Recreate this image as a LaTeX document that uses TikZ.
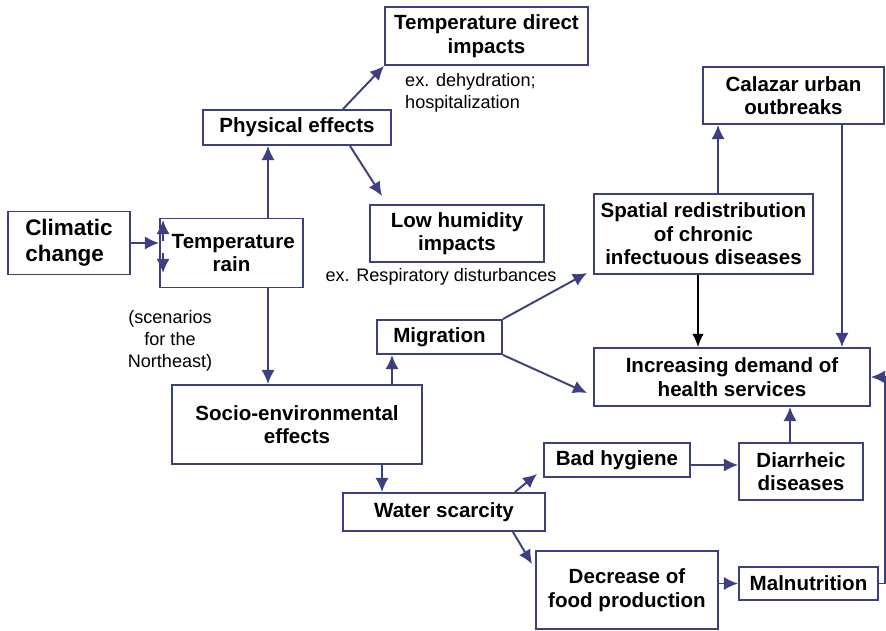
\documentclass[tikz,border=0pt]{standalone}
\usepackage{fontspec}
\setmainfont{Liberation Sans}
\usepackage{tikz}
\usetikzlibrary{arrows.meta,calc}
\definecolor{navy}{RGB}{60,64,128}
\tikzset{
  box/.style={draw=navy, line width=1.1pt, align=center, inner sep=0pt,
    font=\bfseries\fontsize{11.7}{13.4}\selectfont},
  note/.style={font=\fontsize{10.3}{12.6}\selectfont},
  arr/.style={draw=navy, line width=1.1pt, -{Latex[length=8pt,width=7.5pt]}},
  thinarr/.style={draw=black, line width=0.7pt, -{Latex[length=7.5pt,width=6.5pt]}}
}

\begin{document}
\begin{tikzpicture}[x=0.02cm,y=-0.02cm]
\useasboundingbox (0,0) rectangle (886,631);
%%Boxes
\node[box, minimum width=2.44cm, minimum height=1.26cm, align=left,
  font=\bfseries\fontsize{12.8}{15}\selectfont] (clim) at (69,243) {Climatic\\change};
\node[box, minimum width=2.86cm, minimum height=1.38cm] (temp) at (231.5,253) {\,Temperature\\rain};
\node[box, minimum width=3.76cm, minimum height=0.70cm] (phys) at (297,127.5) {Physical effects};
\node[box, minimum width=4.06cm, minimum height=1.16cm] (tdir) at (486.5,36) {Temperature direct\\impacts};
\node[box, minimum width=3.48cm, minimum height=1.14cm] (lowh) at (457,233.5) {Low humidity\\impacts};
\node[box, minimum width=5.00cm, minimum height=1.58cm] (socio) at (297,424.5) {Socio-environmental\\effects};
\node[box, minimum width=2.50cm, minimum height=0.68cm] (migr) at (439.5,337) {Migration};
\node[box, minimum width=4.04cm, minimum height=0.76cm] (water) at (444,512) {Water scarcity};
\node[box, minimum width=2.92cm, minimum height=0.68cm] (hyg) at (617,460) {Bad hygiene};
\node[box, minimum width=2.48cm, minimum height=1.14cm] (diar) at (801,471.5) {Diarrheic\\diseases};
\node[box, minimum width=5.52cm, minimum height=1.16cm] (incr) at (732,377) {Increasing demand of\\health services};
\node[box, minimum width=3.64cm, minimum height=1.56cm] (decr) at (627,590) {Decrease of\\food production};
\node[box, minimum width=2.78cm, minimum height=0.66cm] (maln) at (808.5,583.5) {Malnutrition};
\node[box, minimum width=4.38cm, minimum height=1.60cm] (spat) at (703.5,234) {Spatial redistribution\\of chronic\\infectuous diseases};
\node[box, minimum width=3.62cm, minimum height=1.14cm] (cala) at (793.5,95.5) {Calazar urban\\outbreaks};

%%Notes
\node[note, align=left, anchor=west] (dehy) at (399,93) {ex. dehydration;\\hospitalization};
\node[note] (resp) at (441,277) {ex. Respiratory disturbances};
\node[note, align=center] (scen) at (170,341) {(scenarios\\for the\\Northeast)};

%%Arrows
\draw[arr] (clim.east) -- (clim.east -| temp.west);
\draw[arr] ($(temp.west)+(4,-12)$) coordinate (up0) -- ($(temp.west)+(4,-33)$);
\draw[arr] ($(temp.west)+(4,0)$) coordinate (dn0) -- ($(temp.west)+(4,20)$);
\draw[arr] ($(temp.north)+(36.5,0)$) coordinate (t1) -- (t1 |- phys.south);
\draw[arr] ($(temp.south)+(36.5,0)$) coordinate (t2) -- (t2 |- socio.north);
\draw[arr] ($(phys.north)+(46,0)$) -- (tdir.south west);
\draw[arr] ($(phys.south)+(53,0)$) -- ($(lowh.north west)+(13,-8)$);
\draw[arr] ($(socio.north)+(95,0)$) coordinate (s1) -- (s1 |- migr.south);
\draw[arr] ($(socio.south)+(85,0)$) coordinate (s2) -- (s2 |- water.north);
\draw[arr] (migr.north east) -- ($(spat.south west)+(-6,-2)$);
\draw[arr] (migr.south east) -- ($(incr.west)+(-6,16)$);
\draw[arr] ($(water.north east)+(-31,0)$) -- ($(hyg.south west)+(-6,-4)$);
\draw[arr] ($(water.south east)+(-33,0)$) -- ($(decr.north west)+(-3,14)$);
\draw[arr] ($(hyg.east)+(0,5)$) coordinate (h1) -- (h1 -| diar.west);
\draw[arr] ($(diar.north)+(-11,0)$) coordinate (d1) -- (d1 |- incr.south);
\draw[arr] (maln.west -| decr.east) -- (maln.west);
\draw[arr] (maln.east) -- ++(6,0) |- (incr.east);
\draw[arr] ($(spat.north)+(14.5,0)$) coordinate (p1) -- (p1 |- cala.south);
\draw[arr] ($(cala.south)+(48.5,0)$) coordinate (c1) -- (c1 |- incr.north);
\draw[thinarr] ($(spat.south)+(-5.5,0)$) coordinate (p2) -- (p2 |- incr.north);

\end{tikzpicture}
\end{document}
